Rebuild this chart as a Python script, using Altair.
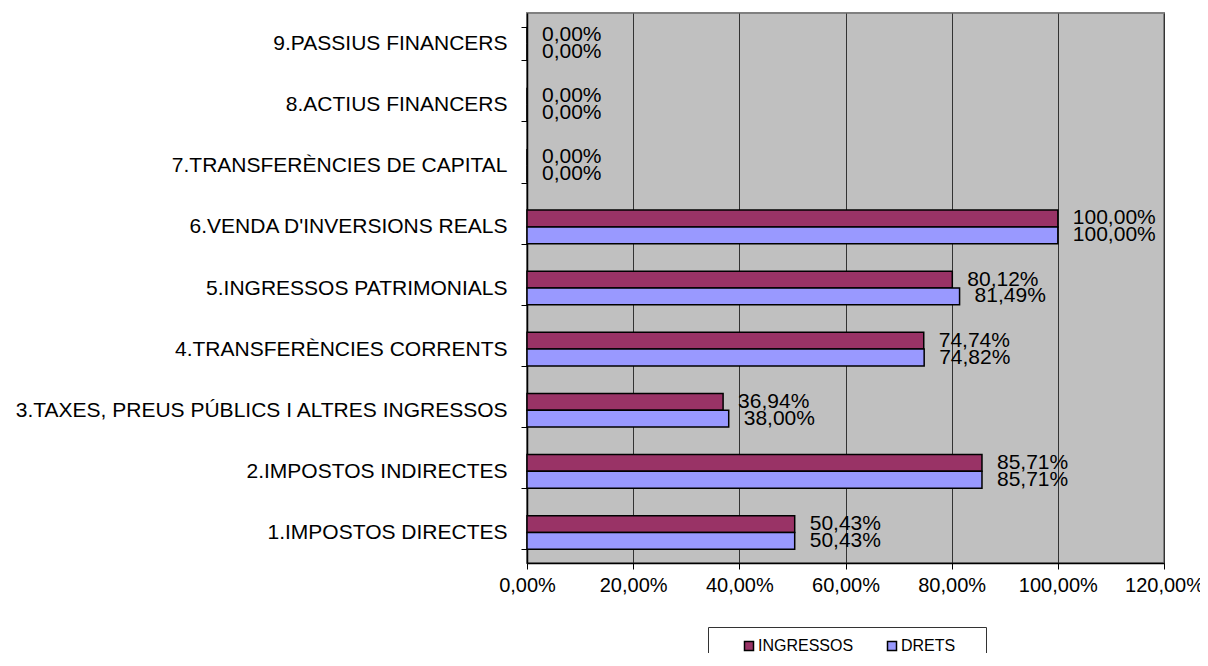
import altair as alt
import pandas as pd

categories = [
    "1.IMPOSTOS DIRECTES",
    "2.IMPOSTOS INDIRECTES",
    "3.TAXES, PREUS PÚBLICS I ALTRES INGRESSOS",
    "4.TRANSFERÈNCIES CORRENTS",
    "5.INGRESSOS PATRIMONIALS",
    "6.VENDA D'INVERSIONS REALS",
    "7.TRANSFERÈNCIES DE CAPITAL",
    "8.ACTIUS FINANCERS",
    "9.PASSIUS FINANCERS",
]
ingressos = [50.43, 85.71, 36.94, 74.74, 80.12, 100.00, 0.00, 0.00, 0.00]
drets = [50.43, 85.71, 38.00, 74.82, 81.49, 100.00, 0.00, 0.00, 0.00]
series = ["INGRESSOS", "DRETS"]
colors = ["#993366", "#9999FF"]
x_ticks = [0, 20, 40, 60, 80, 100, 120]

rows = []
for c, a, b in zip(categories, ingressos, drets):
    rows.append({"cat": c, "serie": series[0], "value": a})
    rows.append({"cat": c, "serie": series[1], "value": b})
df = pd.DataFrame(rows)

FONT = "Liberation Sans"
FS = 21
y_order = list(reversed(categories))

y_enc = alt.Y(
    "cat:N",
    sort=y_order,
    title=None,
    scale=alt.Scale(paddingInner=0.45, paddingOuter=0.225),
    axis=alt.Axis(
        tickBand="extent",
        tickSize=6,
        tickColor="black",
        domainColor="black",
        domainWidth=1.5,
        labelPadding=14,
        labelFontSize=FS,
        labelFont=FONT,
        labelColor="black",
        labelLimit=600,
        labelOverlap=False,
        grid=False,
    ),
)
yoff_enc = alt.YOffset(
    "serie:N", sort=series, scale=alt.Scale(paddingInner=0, paddingOuter=0)
)
x_enc = alt.X(
    "value:Q",
    title=None,
    scale=alt.Scale(domain=[0, 120], nice=False),
    axis=alt.Axis(
        values=x_ticks,
        labelExpr="replace(format(datum.value, '.2f'), '.', ',') + '%'",
        tickSize=6,
        tickColor="black",
        domainColor="black",
        domainWidth=1.5,
        labelPadding=6,
        labelFontSize=20,
        labelFont=FONT,
        labelColor="black",
        labelOverlap=False,
        labelFlush=False,
        grid=True,
        gridColor="#333333",
        gridWidth=1,
    ),
)

bars = alt.Chart(df).mark_bar(stroke="black", strokeWidth=1.5).encode(
    y=y_enc,
    yOffset=yoff_enc,
    x=x_enc,
    color=alt.Color(
        "serie:N",
        scale=alt.Scale(domain=series, range=colors),
        legend=alt.Legend(
            title=" ",
            titleOrient="right",
            titlePadding=20,
            orient="none",
            legendX=181,
            legendY=614,
            direction="horizontal",
            symbolType="square",
            symbolSize=81,
            symbolStrokeColor="black",
            symbolStrokeWidth=1.5,
            symbolOpacity=1,
            symbolOffset=22,
            labelFontSize=16,
            labelFont=FONT,
            labelColor="black",
            labelOffset=1,
            columnPadding=8,
            padding=11,
            strokeColor="#333333",
            fillColor="white",
        ),
    ),
)

labels = alt.Chart(df).transform_calculate(
    lab="replace(format(datum.value, '.2f'), '.', ',') + '%'"
).mark_text(
    align="left", baseline="middle", dx=15, fontSize=FS, font=FONT, color="black"
).encode(
    y=alt.Y("cat:N", sort=y_order),
    yOffset=alt.YOffset("serie:N", sort=series),
    x=alt.X("value:Q"),
    text="lab:N",
)

chart = (
    alt.layer(bars, labels)
    .properties(
        width=637,
        height=550,
        autosize=alt.AutoSizeParams(type="none"),
        padding={"left": 519, "top": 5, "right": 36, "bottom": 90},
    )
    .configure_view(fill="#C0C0C0", stroke="#808080", strokeWidth=2)
)

chart.save("out.html", embed_options={"renderer": "svg", "actions": False})
